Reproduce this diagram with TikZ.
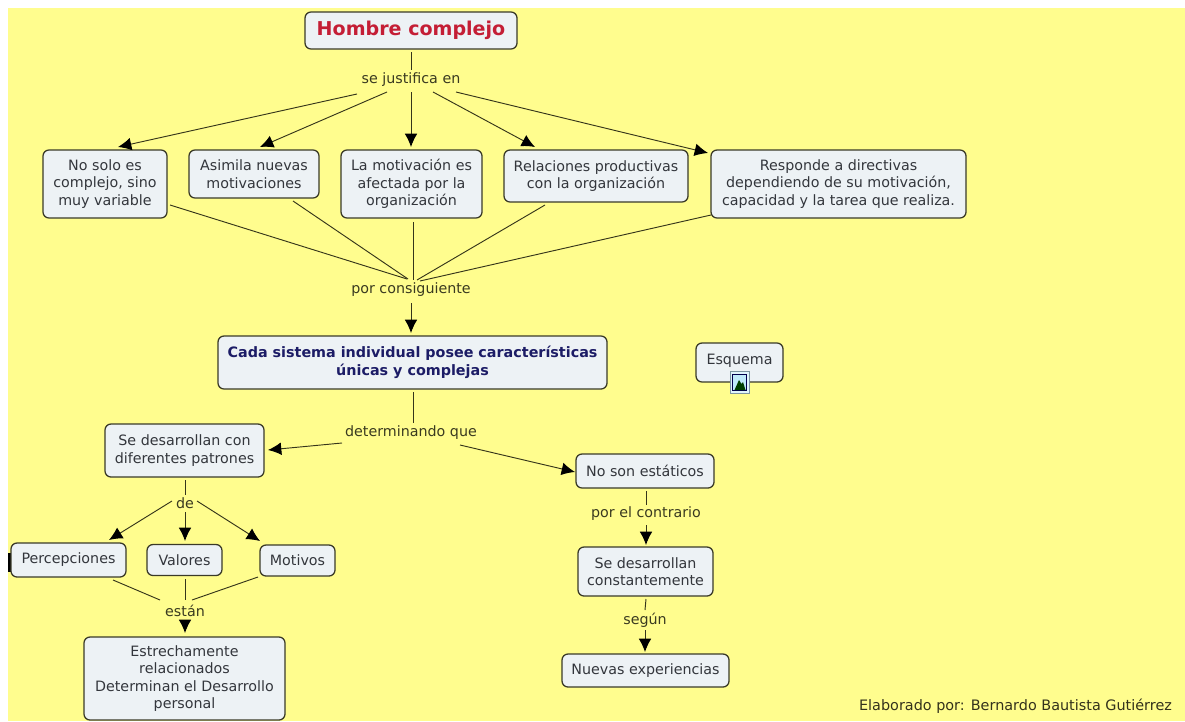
\documentclass[tikz,border=0pt]{standalone}
\usepackage{fontspec}
\setmainfont{DejaVu Sans}
\usetikzlibrary{arrows.meta}
\definecolor{bgyellow}{HTML}{FFFD8E}
\definecolor{boxfill}{HTML}{EDF2F5}
\definecolor{boxline}{HTML}{3A3A28}
\definecolor{linkline}{HTML}{35351A}
\definecolor{boxtext}{HTML}{33363C}
\definecolor{linktext}{HTML}{3A3A20}
\definecolor{titlered}{HTML}{C41E35}
\definecolor{navytext}{HTML}{1C1C66}
\tikzset{
  concept/.style={draw=boxline,line width=0.95pt,fill=boxfill,rounded corners=4.5pt,inner sep=0pt,align=center,
    text=boxtext,font=\fontsize{10.7}{13.1}\selectfont},
  linklabel/.style={inner sep=0pt,text=linktext,font=\fontsize{10.7}{13.1}\selectfont},
  plainline/.style={draw=linkline,line width=0.7pt},
  arrowline/.style={plainline,-{Latex[length=10pt,width=9.5pt,color=black]}},
}
\newcommand{\lnk}[5]{\draw[#1] ([shift={(#3)}]#2.center) -- ([shift={(#5)}]#4.center);}
\newcommand{\cpt}[6][]{\node[concept,minimum width=#4*0.75pt,minimum height=#5*0.75pt,#1] (#2) at (#3) {#6};}
\begin{document}
\begin{tikzpicture}[x=0.75pt,y=-0.75pt]
\useasboundingbox (0,0) rectangle (1185,721);
\fill[white] (0,0) rectangle (1185,721);
\fill[bgyellow] (8,8) rectangle (1185,721);
\fill[black] (8,553) rectangle (12,572);

\cpt[font=\fontsize{14.3}{16}\bfseries\selectfont,text=titlered]{hombre}{411,30.5}{212}{37}{Hombre complejo}
\cpt{nosolo}{105,184}{124}{68}{No solo es\\complejo, sino\\muy variable}
\cpt{asimila}{254,174}{130}{48}{Asimila nuevas\\motivaciones}
\cpt{lamotiv}{411.5,184}{141}{68}{La motivación es\\afectada por la\\organización}
\cpt{relac}{596,176}{184}{52}{Relaciones productivas\\con la organización}
\cpt{resp}{838.5,184}{255}{68}{Responde a directivas\\dependiendo de su motivación,\\capacidad y la tarea que realiza.}
\cpt[font=\fontsize{10.75}{13.1}\bfseries\selectfont,text=navytext]{cada}{412.5,362.5}{389}{53}{Cada sistema individual posee características\\únicas y complejas}
\cpt{esq}{739.5,362.5}{87}{39}{\raisebox{5pt}{Esquema}}
\cpt{sedes}{184.5,450.5}{159}{53}{Se desarrollan con\\diferentes patrones}
\cpt{noson}{645,471}{138}{34}{No son estáticos}
\cpt{perc}{68.5,560}{115}{34}{Percepciones}
\cpt{val}{184.5,560}{75}{31}{Valores}
\cpt{mot}{297.5,560.5}{75}{31}{Motivos}
\cpt{estr}{184.5,678.5}{201}{83}{Estrechamente\\relacionados\\Determinan el Desarrollo\\personal}
\cpt{secons}{645.5,571.5}{135}{49}{Se desarrollan\\constantemente}
\cpt{nuevas}{645.5,670.5}{167}{33}{Nuevas experiencias}

\node[linklabel] (sj) at (411,80) {se justifica en};
\node[linklabel] (pc) at (411,290) {por consiguiente};
\node[linklabel] (det) at (411,433) {determinando que};
\node[linklabel] (de) at (185,503) {de};
\node[linklabel] (est) at (185,611) {están};
\node[linklabel] (pc2) at (646,514) {por el contrario};
\node[linklabel] (seg) at (645,620) {según};
\node[inner sep=0pt,text=black!80!bgyellow,font=\fontsize{10.8}{12}\selectfont] (autor) at (1015.5,706) {Elaborado por: Bernardo Bautista Gutiérrez};

% image icon of the "Esquema" concept
\node[draw=black!20!cyan!30!gray,fill=cyan!12,line width=0.5pt,minimum width=14.5pt,minimum height=16.5pt,inner sep=0pt] (icon) at (739.5,382) {};
\node[draw=black!70!blue,fill=cyan!25,line width=0.9pt,minimum width=10.5pt,minimum height=12.5pt,inner sep=0pt] (iconimg) at (739.5,382.5) {};
\fill[green!25!black] (734.5,390) -- (739,380) -- (741.5,384) -- (743,382) -- (745.5,390) -- cycle;

\lnk{plainline}{hombre}{0,21.5}{sj}{0,-10}
\lnk{arrowline}{sj}{-54,14}{nosolo}{13,-37}
\lnk{arrowline}{sj}{-24,12}{asimila}{6,-27}
\lnk{arrowline}{sj}{0,12}{lamotiv}{-0.5,-37}
\lnk{arrowline}{sj}{22,12}{relac}{-61,-29}
\lnk{arrowline}{sj}{45,12}{resp}{-130.5,-31}
\lnk{plainline}{nosolo}{65,21}{pc}{-4,-11}
\lnk{plainline}{asimila}{39,27}{pc}{-3,-11}
\lnk{plainline}{lamotiv}{1.5,38}{pc}{2,-10}
\lnk{plainline}{relac}{-51,29}{pc}{6,-10}
\lnk{plainline}{resp}{-127.5,31}{pc}{9,-9}
\lnk{arrowline}{pc}{0,13}{cada}{-1.5,-29.5}
\lnk{plainline}{cada}{0.5,29.5}{det}{2,-10}
\lnk{arrowline}{det}{-69,10}{sedes}{83.5,-0.5}
\lnk{arrowline}{det}{49,12}{noson}{-70,1}
\lnk{plainline}{sedes}{0.5,29.5}{de}{0,-8}
\lnk{arrowline}{de}{-13,-2}{perc}{40.5,-20}
\lnk{arrowline}{de}{0,9}{val}{0.5,-19}
\lnk{arrowline}{de}{12,-2}{mot}{-37.5,-19.5}
\lnk{plainline}{perc}{44.5,20}{est}{-25,-11}
\lnk{plainline}{val}{0.5,19}{est}{0,-11}
\lnk{plainline}{mot}{-39.5,16.5}{est}{7,-11}
\lnk{arrowline}{est}{0,9}{estr}{0.5,-45.5}
\lnk{plainline}{noson}{1,20}{pc2}{0,-9}
\lnk{arrowline}{pc2}{0,11}{secons}{0.5,-26.5}
\lnk{plainline}{secons}{0.5,27.5}{seg}{0,-10}
\lnk{arrowline}{seg}{0,10}{nuevas}{-0.5,-18.5}
\end{tikzpicture}
\end{document}
